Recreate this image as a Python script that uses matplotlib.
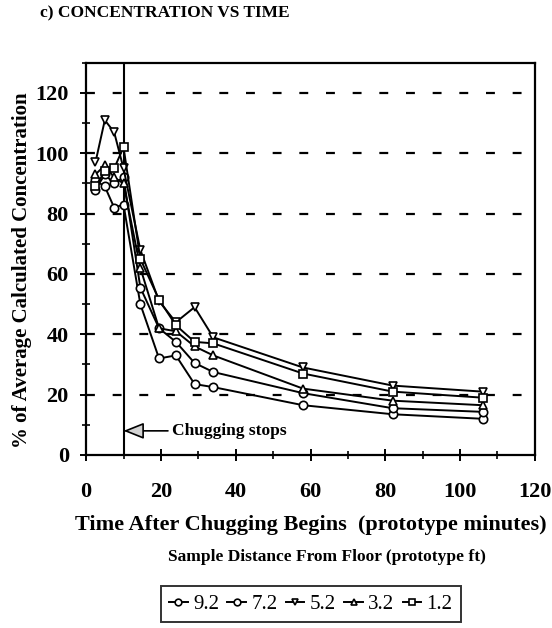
import matplotlib.pyplot as plt
from matplotlib.ticker import MultipleLocator

plt.rcParams['font.family'] = ['Liberation Serif', 'DejaVu Serif']

# prototype minutes after chugging begins
times = [2.5, 5, 7.5, 10, 14.5, 19.5, 24, 29, 34, 58, 82, 106]

# % of average calculated concentration, per sample height (ft)
conc_92 = [91, 89, 82, 83, 50, 32, 33, 23.5, 22.5, 16.5, 13.5, 12]
conc_72 = [88, 93, 90, 92, 55.5, 42, 37.5, 30.5, 27.5, 20.5, 15.5, 14.3]
conc_52 = [97, 111, 107, 95, 68, 51, 44, 49, 39, 29, 23, 21]
conc_32 = [93, 96, 92, 90, 62, 42, 41, 36, 33, 22, 18, 16.5]
conc_12 = [89, 94, 95, 102, 65, 51.5, 43, 37.5, 37, 27, 21, 19]

labels = ['9.2', '7.2', '5.2', '3.2', '1.2']
series = [conc_92, conc_72, conc_52, conc_32, conc_12]
markers = ['o', 'o', 'v', '^', 's']

fig = plt.figure(figsize=(5.52, 6.28), dpi=100)
ax = fig.add_axes([0.156, 0.2755, 0.813, 0.6245])

for y in range(20, 121, 20):
    ax.axhline(y, color='black', linestyle=(0, (4, 8)), linewidth=1.6, zorder=0)

ax.axvline(10, color='black', linewidth=1.5, zorder=1)

handles = []
for vals, lab, mk in zip(series, labels, markers):
    h, = ax.plot(times, vals, color='black', linewidth=1.4, marker=mk,
                 markersize=6, markerfacecolor='white', markeredgecolor='black',
                 markeredgewidth=1.2, label=lab, zorder=3)
    handles.append(h)

ax.annotate('Chugging stops', xy=(10, 8), xytext=(23, 8),
            fontsize=12.5, fontweight='bold', va='center', ha='left',
            arrowprops=dict(arrowstyle='-|>,head_length=1.0,head_width=0.4',
                            color='black', fc='lightgray', lw=1.2,
                            shrinkA=1, shrinkB=0))

ax.set_xlim(0, 120)
ax.set_ylim(0, 130)
ax.xaxis.set_major_locator(MultipleLocator(20))
ax.xaxis.set_minor_locator(MultipleLocator(10))
ax.yaxis.set_major_locator(MultipleLocator(20))
ax.yaxis.set_minor_locator(MultipleLocator(10))
ax.set_yticks(range(0, 121, 20))
ax.tick_params(which='major', direction='inout', length=9, width=1.4, labelsize=16)
ax.tick_params(which='minor', direction='inout', length=6, width=1.2)
ax.tick_params(axis='x', pad=15)
ax.tick_params(axis='y', pad=8)
for lbl in ax.get_xticklabels() + ax.get_yticklabels():
    lbl.set_fontweight('bold')
for s in ax.spines.values():
    s.set_linewidth(1.6)

ax.set_xlabel('Time After Chugging Begins  (prototype minutes)', fontsize=16,
              fontweight='bold', labelpad=9)
ax.set_ylabel('% of Average Calculated Concentration', fontsize=15,
              fontweight='bold')
ax.yaxis.set_label_coords(-0.12, 0.47)

fig.text(0.072, 0.978, 'c) CONCENTRATION VS TIME', fontsize=12.5, fontweight='bold',
         va='center', ha='left')
fig.text(0.593, 0.113, 'Sample Distance From Floor (prototype ft)', fontsize=12.5,
         fontweight='bold', ha='center', va='center')

leg = fig.legend(handles=handles, labels=labels, ncol=5, loc='center',
                 bbox_to_anchor=(0.563, 0.038), fontsize=15, frameon=True,
                 fancybox=False, edgecolor='black', handlelength=0.9,
                 handletextpad=0.25, columnspacing=0.4, borderpad=0.4,
                 markerscale=0.8)
leg.get_frame().set_linewidth(1.4)

fig.savefig('out.png', dpi=100)
